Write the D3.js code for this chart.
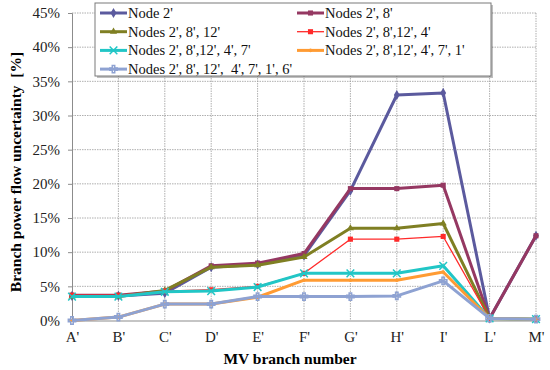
<!DOCTYPE html>
<html>
<head>
<meta charset="utf-8">
<script src="https://cdn.jsdelivr.net/npm/d3@7"></script>
<style>
  body { margin: 0; background: #fff; }
</style>
</head>
<body>
<svg width="550" height="370"></svg>
<script>
// Data
const branches = ["A'", "B'", "C'", "D'", "E'", "F'", "G'", "H'", "I'", "L'", "M'"]
const yTicks = [0, 5, 10, 15, 20, 25, 30, 35, 40, 45]

const node2 = [3.6, 3.6, 4.0, 7.8, 8.2, 9.5, 19.0, 33.0, 33.3, 0.3, 12.4]
const nodes2_8 = [3.7, 3.7, 4.3, 8.0, 8.4, 9.8, 19.3, 19.3, 19.8, 0.3, 12.4]
const nodes2_8_12 = [3.5, 3.5, 4.4, 7.8, 8.1, 9.3, 13.5, 13.5, 14.2, 0.3, 0.2]
const nodes2_8_12_4 = [3.7, 3.7, 4.3, 4.5, 5.0, 6.9, 11.9, 11.9, 12.3, 0.3, 0.2]
const nodes2_8_12_4_7 = [3.5, 3.5, 4.2, 4.3, 4.9, 6.9, 6.9, 6.9, 8.0, 0.3, 0.2]
const nodes2_8_12_4_7_1 = [0.0, 0.5, 2.4, 2.4, 3.4, 5.9, 5.9, 5.9, 7.1, 0.3, 0.2]
const nodes2_8_12_4_7_1_6 = [0.0, 0.5, 2.4, 2.4, 3.5, 3.5, 3.5, 3.6, 5.8, 0.3, 0.2]

const series = [
    {name: "Node 2'", values: node2, color: '#5b5a9e', width: 3, marker: 'diamond'},
    {name: "Nodes 2', 8'", values: nodes2_8, color: '#953862', width: 3, marker: 'square'},
    {name: "Nodes 2', 8', 12'", values: nodes2_8_12, color: '#7f7f23', width: 3, marker: 'triangle'},
    {name: "Nodes 2', 8',12', 4'", values: nodes2_8_12_4, color: '#ff2a2a', width: 1.3, marker: 'square'},
    {name: "Nodes 2', 8',12', 4', 7'", values: nodes2_8_12_4_7, color: '#21c6c6', width: 3, marker: 'star'},
    {name: "Nodes 2', 8',12', 4', 7', 1'", values: nodes2_8_12_4_7_1, color: '#ff9b33', width: 3, marker: 'dot'},
    {name: "Nodes 2', 8', 12',  4', 7', 1', 6'", values: nodes2_8_12_4_7_1_6, color: '#8ea2d2', width: 3, marker: 'plus'}
]

const FONT = "'Liberation Serif', 'Times New Roman', serif"
const svg = d3.select('svg')
const plotLeft = 72, plotRight = 536, plotTop = 13, plotBottom = 320.5

const x = d3.scalePoint().domain(branches).range([plotLeft, plotRight]).padding(0)
const y = d3.scaleLinear().domain([0, 45]).range([plotBottom, plotTop])

// grid
svg.append('g').selectAll('line')
    .data(yTicks.slice(1))
    .enter().append('line')
    .attr('x1', plotLeft).attr('x2', plotRight)
    .attr('y1', d => y(d)).attr('y2', d => y(d))
    .attr('stroke', '#9a9a9a').attr('stroke-width', 0.8).attr('stroke-dasharray', '1.5,1')

svg.append('g').selectAll('line')
    .data(branches.slice(1))
    .enter().append('line')
    .attr('x1', d => x(d)).attr('x2', d => x(d))
    .attr('y1', plotTop).attr('y2', plotBottom)
    .attr('stroke', '#9a9a9a').attr('stroke-width', 0.8).attr('stroke-dasharray', '1.5,1')

// axes
const yAxis = d3.axisLeft(y).tickValues(yTicks).tickFormat(d => d + '%').tickSize(4)
const gy = svg.append('g').attr('transform', `translate(${plotLeft},0)`).call(yAxis)
    .attr('font-family', null)
gy.select('.domain').attr('stroke', '#8c8c8c')
gy.selectAll('.tick line').attr('stroke', '#8c8c8c')
gy.selectAll('.tick text').style('font-family', FONT).attr('font-size', 15).attr('fill', '#222').attr('x', -12)

const xAxis = d3.axisBottom(x).tickSize(0)
const gx = svg.append('g').attr('transform', `translate(0,${plotBottom})`).call(xAxis)
    .attr('font-family', null)
gx.select('.domain').attr('stroke', '#8c8c8c').attr('stroke-width', 1.2)
gx.selectAll('.tick text').style('font-family', FONT).attr('font-size', 15).attr('fill', '#222').attr('dy', '1.2em')

svg.append('text')
    .style('font-family', FONT)
    .attr('x', 290).attr('y', 364)
    .attr('text-anchor', 'middle')
    .attr('font-size', 15.5).attr('font-weight', 'bold')
    .text('MV branch number')

svg.append('text')
    .style('font-family', FONT)
    .attr('transform', 'translate(21,172) rotate(-90)')
    .attr('text-anchor', 'middle')
    .attr('font-size', 15.5).attr('font-weight', 'bold')
    .attr('xml:space', 'preserve')
    .text('Branch power flow uncertainty  [%]')

// markers
const markerPath = (type) => {
    switch (type) {
    case 'diamond': return d3.symbol(d3.symbolDiamond, 30)()
    case 'square': return d3.symbol(d3.symbolSquare, 26)()
    case 'triangle': return d3.symbol(d3.symbolTriangle, 22)()
    case 'dot': return d3.symbol(d3.symbolCircle, 10)()
    case 'star': return d3.symbol(d3.symbolTimes, 40)()
    case 'plus': return d3.symbol(d3.symbolCross, 30)()
    default: return ''
    }
}

const line = d3.line().x((d, i) => x(branches[i])).y(d => y(d))

series.forEach(s => {
    const g = svg.append('g')
    g.append('path')
        .datum(s.values)
        .attr('d', line)
        .attr('fill', 'none')
        .attr('stroke', s.color)
        .attr('stroke-width', s.width)
        .attr('stroke-linejoin', 'round')
    const stroked = s.marker === 'star' || s.marker === 'plus'
    g.selectAll('path.m')
        .data(s.values)
        .enter().append('path')
        .attr('class', 'm')
        .attr('d', markerPath(s.marker))
        .attr('transform', (d, i) => `translate(${x(branches[i])},${y(d)})`)
        .attr('fill', stroked ? 'none' : s.color)
        .attr('stroke', s.color)
        .attr('stroke-width', stroked ? 1.5 : 0)
})

// legend
const legend = svg.append('g')
legend.append('rect')
    .attr('x', 97).attr('y', 5).attr('width', 396).attr('height', 73)
    .attr('fill', '#000').attr('opacity', 0.25)
legend.append('rect')
    .attr('x', 95).attr('y', 3).attr('width', 396).attr('height', 73)
    .attr('fill', '#fff').attr('stroke', '#7a7a7a').attr('stroke-width', 1)

const legendPos = series.map((s, i) => ({
    s, cx: i % 2 === 0 ? 100 : 297, cy: 13 + Math.floor(i / 2) * 18.7
}))
legendPos.forEach(({s, cx, cy}) => {
    legend.append('line')
        .attr('x1', cx).attr('x2', cx + 27).attr('y1', cy).attr('y2', cy)
        .attr('stroke', s.color).attr('stroke-width', s.width)
    const stroked = s.marker === 'star' || s.marker === 'plus'
    legend.append('path')
        .attr('d', markerPath(s.marker))
        .attr('transform', `translate(${cx + 13.5},${cy})`)
        .attr('fill', stroked ? 'none' : s.color)
        .attr('stroke', s.color)
        .attr('stroke-width', stroked ? 1.5 : 0)
    legend.append('text')
        .style('font-family', FONT)
        .attr('x', cx + 28).attr('y', cy + 5)
        .attr('font-size', 14.5).attr('fill', '#111')
        .attr('xml:space', 'preserve')
        .text(s.name)
})
</script>
</body>
</html>
